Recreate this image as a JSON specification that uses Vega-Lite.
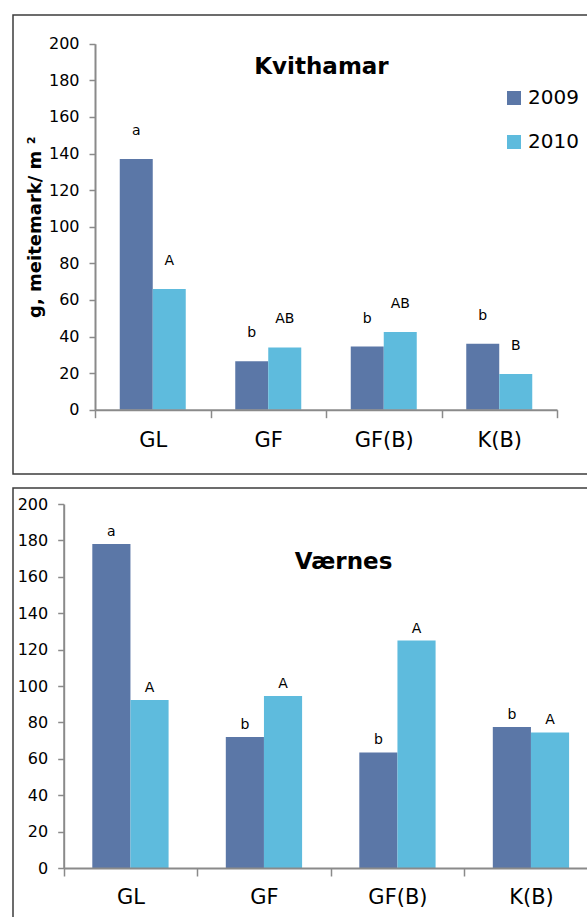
{
  "$schema": "https://vega.github.io/schema/vega-lite/v6.json",
  "padding": {"left": 12, "top": 14, "right": 0, "bottom": 0},
  "spacing": 12,
  "config": {
    "view": {"stroke": "#3c3c3c", "strokeWidth": 1.5},
    "font": "DejaVu Sans",
    "axis": {"domainColor": "#8a8a8a", "domainWidth": 2, "tickColor": "#8a8a8a", "tickWidth": 1.5, "labelColor": "#000000", "labelFont": "DejaVu Sans", "grid": false}
  },
  "data": {
    "values": [
      {"site": "Kvithamar", "treatment": "GL", "year": "2009", "value": 137, "letter": "a"},
      {"site": "Kvithamar", "treatment": "GL", "year": "2010", "value": 66, "letter": "A"},
      {"site": "Kvithamar", "treatment": "GF", "year": "2009", "value": 26.5, "letter": "b"},
      {"site": "Kvithamar", "treatment": "GF", "year": "2010", "value": 34, "letter": "AB"},
      {"site": "Kvithamar", "treatment": "GF(B)", "year": "2009", "value": 34.5, "letter": "b"},
      {"site": "Kvithamar", "treatment": "GF(B)", "year": "2010", "value": 42.5, "letter": "AB"},
      {"site": "Kvithamar", "treatment": "K(B)", "year": "2009", "value": 36, "letter": "b"},
      {"site": "Kvithamar", "treatment": "K(B)", "year": "2010", "value": 19.5, "letter": "B"},
      {"site": "Værnes", "treatment": "GL", "year": "2009", "value": 178, "letter": "a"},
      {"site": "Værnes", "treatment": "GL", "year": "2010", "value": 92.3, "letter": "A"},
      {"site": "Værnes", "treatment": "GF", "year": "2009", "value": 72, "letter": "b"},
      {"site": "Værnes", "treatment": "GF", "year": "2010", "value": 94.5, "letter": "A"},
      {"site": "Værnes", "treatment": "GF(B)", "year": "2009", "value": 63.5, "letter": "b"},
      {"site": "Værnes", "treatment": "GF(B)", "year": "2010", "value": 125, "letter": "A"},
      {"site": "Værnes", "treatment": "K(B)", "year": "2009", "value": 77.5, "letter": "b"},
      {"site": "Værnes", "treatment": "K(B)", "year": "2010", "value": 74.5, "letter": "A"}
    ]
  },
  "resolve": {"scale": {"x": "independent", "y": "independent", "xOffset": "independent"}, "legend": {"color": "independent"}},
  "vconcat": [
    {
      "width": 575,
      "height": 459,
      "title": {"text": "Kvithamar", "fontSize": 23, "fontWeight": "bold", "font": "DejaVu Sans", "color": "#000000", "anchor": "middle", "offset": -64, "dx": 21},
      "transform": [{"filter": "datum.site === 'Kvithamar'"}],
      "encoding": {
        "x": {"field": "treatment", "type": "nominal", "sort": ["GL", "GF", "GF(B)", "K(B)"],
              "scale": {"range": [82, 544], "paddingInner": 0, "paddingOuter": 0},
              "axis": {"title": null, "orient": "bottom", "offset": -64.3, "labelFontSize": 21, "labelPadding": 12, "tickSize": 8, "tickBand": "extent", "labelAngle": 0, "zindex": 1}},
        "xOffset": {"field": "year", "type": "nominal", "scale": {"paddingInner": 0, "paddingOuter": 0.75}},
        "y": {"field": "value", "type": "quantitative",
              "scale": {"domain": [0, 200], "range": [394.7, 28.7], "nice": false, "zero": true},
              "axis": {"title": "g, meitemark/ m ²", "titleFontSize": 18, "titleFontWeight": "bold", "titleColor": "#000000", "titleFont": "DejaVu Sans", "titlePadding": 4, "offset": -82, "values": [0, 20, 40, 60, 80, 100, 120, 140, 160, 180, 200], "labelFontSize": 16, "tickSize": 6, "labelPadding": 10}}
      },
      "layer": [
        {"mark": {"type": "bar"},
         "encoding": {"color": {"field": "year", "type": "nominal",
            "scale": {"domain": ["2009", "2010"], "range": ["#5b77a7", "#5ebbdd"]},
            "legend": {"title": null, "orient": "none", "legendX": 491, "legendY": 73, "symbolType": "square", "symbolSize": 196, "symbolStrokeWidth": 0, "labelFontSize": 20, "labelFont": "DejaVu Sans", "labelColor": "#000000", "labelOffset": 4, "rowPadding": 24, "padding": 0}}}},
        {"mark": {"type": "text", "dy": -28, "fontSize": 14, "font": "DejaVu Sans", "color": "#000000", "baseline": "middle"},
         "encoding": {"text": {"field": "letter"}}}
      ]
    },
    {
      "width": 575,
      "height": 432,
      "title": {"text": "Værnes", "fontSize": 23, "fontWeight": "bold", "font": "DejaVu Sans", "color": "#000000", "anchor": "middle", "offset": -86, "dx": 43},
      "transform": [{"filter": "datum.site === 'Værnes'"}],
      "encoding": {
        "x": {"field": "treatment", "type": "nominal", "sort": ["GL", "GF", "GF(B)", "K(B)"],
              "scale": {"range": [50.7, 584.7], "paddingInner": 0, "paddingOuter": 0},
              "axis": {"title": null, "orient": "bottom", "offset": -52, "labelFontSize": 21, "labelPadding": 10, "tickSize": 8, "tickBand": "extent", "labelAngle": 0, "zindex": 1}},
        "xOffset": {"field": "year", "type": "nominal", "scale": {"paddingInner": 0, "paddingOuter": 0.75}},
        "y": {"field": "value", "type": "quantitative",
              "scale": {"domain": [0, 200], "range": [380, 16], "nice": false, "zero": true},
              "axis": {"title": null, "offset": -50.7, "values": [0, 20, 40, 60, 80, 100, 120, 140, 160, 180, 200], "labelFontSize": 16, "tickSize": 6, "labelPadding": 10}}
      },
      "layer": [
        {"mark": {"type": "bar"},
         "encoding": {"color": {"field": "year", "type": "nominal",
            "scale": {"domain": ["2009", "2010"], "range": ["#5b77a7", "#5ebbdd"]},
            "legend": null}}},
        {"mark": {"type": "text", "dy": -12, "fontSize": 14, "font": "DejaVu Sans", "color": "#000000", "baseline": "middle"},
         "encoding": {"text": {"field": "letter"}}}
      ]
    }
  ]
}
